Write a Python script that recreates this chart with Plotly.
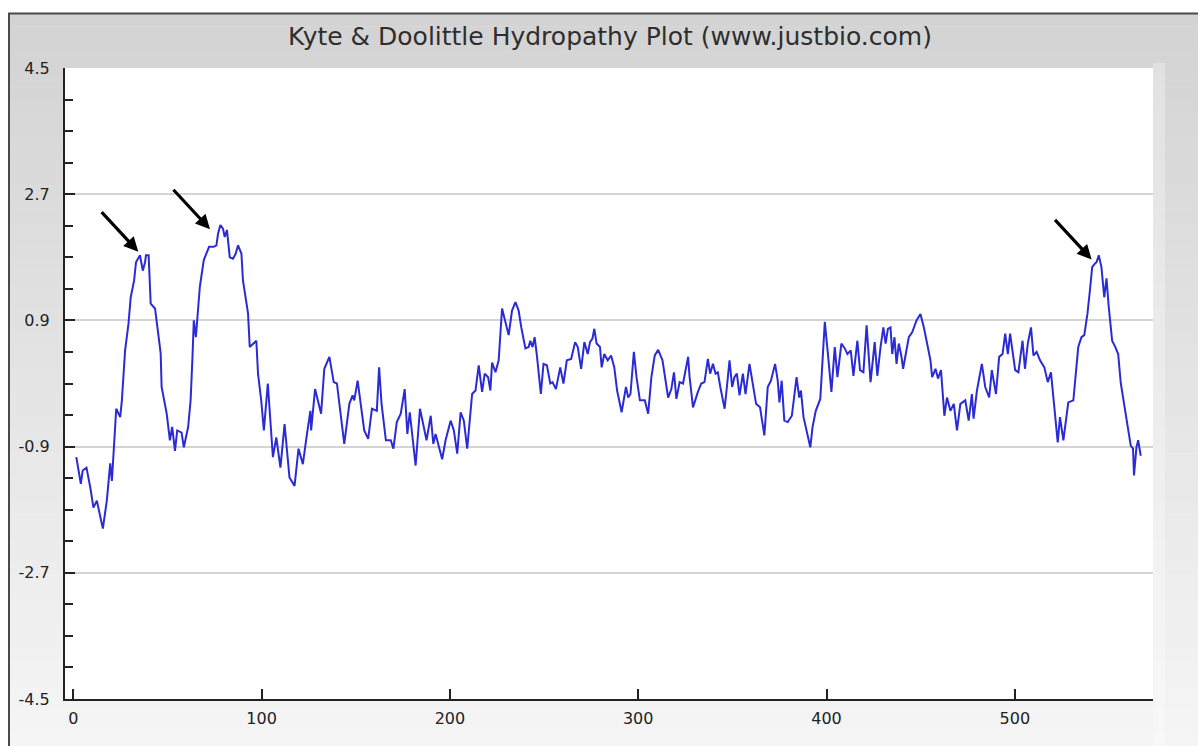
import plotly.graph_objects as go

# ---- data ----
residue = [
    1.6, 4, 5, 7, 9, 10.7, 12.5, 15.7, 17.8, 19.6, 20.5, 22.8, 24.9, 25.8, 27.5, 29.3, 30.5, 32.3, 33.3, 35.4,
    36.9, 38.1, 38.6, 40, 41.1, 43.4, 45.1, 46.4, 46.9, 49.6, 51.3, 52.5, 54, 55.2, 57.5, 58.7, 61, 62.3, 63.3, 64,
    65.1, 65.8, 67.2, 69.3, 71.1, 72.1, 74.6, 76, 76.9, 78.1, 79.5, 80.4, 81.6, 83.1, 84.8, 86.2, 87.5, 89.3, 90.1, 91.9,
    92.8, 93.7, 95.4, 97.2, 98.1, 99.8, 101.2, 103.3, 106, 107.8, 110, 112.2, 114.8, 117.5, 119.6, 121.9, 124.1, 125.9, 126.3, 128.4,
    131.6, 133.3, 136, 138.3, 140, 142.1, 143.9, 146.6, 148.3, 149.2, 151, 154.5, 156.6, 158.6, 161.2, 162.4, 163.7, 166, 168.6, 170,
    171.8, 173.9, 176, 177.4, 178.7, 181.8, 184.1, 187.6, 189.8, 191.2, 192.4, 195.9, 197.7, 200.4, 202.1, 203.9, 205.7, 207.4, 209.2, 211.8,
    213.6, 215.3, 217.1, 218.5, 220.3, 221.5, 222.4, 224.2, 225.9, 227.7, 229.8, 231.2, 233, 234.8, 236.5, 237.9, 240.1, 241.8, 242.7, 243.9,
    245, 246.2, 248.3, 249.7, 251.5, 253.3, 254.5, 256.3, 258.6, 260.3, 262.1, 264.4, 266.5, 267.9, 269.7, 271.4, 273.2, 274.4, 275.7, 276.7,
    277.9, 279.7, 280.6, 282, 283.8, 285.6, 287.3, 288.8, 291.2, 293.5, 294.7, 295.9, 297.7, 299.1, 300.9, 303.5, 305.3, 307, 308.8, 310.6,
    312.9, 314.1, 315.9, 317.6, 319, 320.3, 322, 323.8, 325.2, 326.5, 327.3, 329.1, 331.7, 333.5, 335.2, 337, 338.2, 339.7, 341.1, 342.3,
    343.6, 345.9, 347.1, 348.5, 349.9, 351.1, 352.4, 353.8, 355.6, 357, 359.1, 360.8, 362.6, 364.7, 367, 368.8, 370.5, 372.7, 374.1, 375,
    376.2, 377.6, 379.4, 381.6, 382.9, 384.1, 385.5, 386.4, 387.8, 389.6, 391.4, 392.6, 394.3, 396.7, 399.1, 400.9, 402.6, 404.4, 405.8, 407.9,
    409.7, 411.1, 412.9, 414.3, 416.4, 417.8, 419.6, 421.3, 423.4, 425.6, 427, 428.7, 430.2, 431.4, 432.6, 434, 434.9, 436.1, 437.2, 438.4,
    439.7, 440.7, 441.9, 443.7, 445.5, 447.8, 449.9, 451.7, 453.8, 455.2, 456.1, 457.9, 459.2, 460.8, 462.6, 464, 465.8, 467.6, 469.3, 471.1,
    473.7, 475.5, 477.2, 478.1, 479.9, 482.5, 484.3, 486.4, 487.8, 490, 491.7, 493.5, 494.9, 496.3, 497.5, 500.2, 501.9, 504.1, 505.4, 506.9,
    508.6, 509.9, 511.6, 513.4, 515.7, 517.5, 519.2, 521, 522.8, 524, 525.8, 528.4, 531.1, 533.7, 535.4, 536.9, 538.6, 539.9, 541.1, 542.5,
    543.4, 544.6, 546, 547.5, 548.7, 549.9, 551.7, 553.4, 554.9, 556.3, 558.4, 560.2, 561.6, 562.8, 563.3, 564.6, 565.5, 566.9,
]
hydropathy = [
    -1.05, -1.43, -1.24, -1.2, -1.48, -1.77, -1.67, -2.07, -1.67, -1.14, -1.39, -0.36, -0.48, -0.24, 0.47, 0.85, 1.23, 1.47, 1.73, 1.83,
    1.61, 1.73, 1.83, 1.83, 1.14, 1.07, 0.71, 0.43, -0.05, -0.43, -0.81, -0.62, -0.96, -0.67, -0.7, -0.91, -0.62, -0.24, 0.38, 0.9,
    0.66, 0.95, 1.38, 1.76, 1.88, 1.95, 1.95, 1.97, 2.14, 2.26, 2.21, 2.09, 2.19, 1.8, 1.78, 1.85, 1.97, 1.85, 1.47, 1.14,
    1.0, 0.52, 0.57, 0.61, 0.14, -0.24, -0.67, 0.0, -1.05, -0.77, -1.2, -0.58, -1.34, -1.46, -0.93, -1.15, -0.72, -0.39, -0.67, -0.08,
    -0.43, 0.21, 0.38, 0.02, 0.0, -0.43, -0.86, -0.29, -0.17, -0.24, 0.04, -0.67, -0.79, -0.36, -0.39, 0.23, -0.29, -0.81, -0.81, -0.93,
    -0.55, -0.43, -0.08, -0.72, -0.41, -1.17, -0.36, -0.81, -0.46, -0.86, -0.72, -1.08, -0.81, -0.53, -0.67, -1.0, -0.41, -0.53, -0.93, -0.15,
    -0.1, 0.26, -0.12, 0.14, 0.09, -0.1, 0.3, 0.16, 0.33, 1.07, 0.85, 0.69, 1.04, 1.16, 1.04, 0.8, 0.5, 0.52, 0.61, 0.52,
    0.66, 0.4, -0.15, 0.28, 0.26, 0.0, 0.02, -0.08, 0.23, 0.0, 0.33, 0.35, 0.59, 0.52, 0.21, 0.59, 0.42, 0.59, 0.64, 0.78,
    0.57, 0.52, 0.23, 0.42, 0.33, 0.4, 0.23, -0.1, -0.41, -0.05, -0.2, -0.15, 0.45, 0.09, -0.24, -0.24, -0.43, 0.09, 0.4, 0.48,
    0.33, 0.14, -0.2, -0.08, 0.16, -0.22, 0.02, 0.0, 0.19, 0.38, 0.09, -0.34, -0.12, 0.0, 0.02, 0.35, 0.14, 0.28, 0.14, 0.16,
    -0.05, -0.36, -0.05, 0.33, -0.05, 0.09, 0.14, -0.17, 0.14, -0.15, 0.28, 0.0, -0.29, -0.34, -0.74, -0.05, 0.04, 0.28, 0.04, -0.27,
    0.04, -0.53, -0.55, -0.46, -0.2, 0.09, -0.2, -0.1, -0.48, -0.72, -0.91, -0.62, -0.39, -0.22, 0.88, 0.38, -0.12, 0.52, 0.09, 0.57,
    0.5, 0.42, 0.47, 0.11, 0.61, 0.19, 0.16, 0.83, 0.02, 0.59, 0.11, 0.52, 0.8, 0.57, 0.78, 0.8, 0.42, 0.66, 0.28, 0.57,
    0.4, 0.21, 0.4, 0.66, 0.73, 0.9, 0.99, 0.8, 0.52, 0.33, 0.09, 0.21, 0.07, 0.19, -0.46, -0.2, -0.39, -0.29, -0.67, -0.29,
    -0.24, -0.53, -0.15, -0.5, -0.1, 0.28, -0.05, -0.2, 0.19, -0.15, 0.38, 0.42, 0.71, 0.42, 0.71, 0.19, 0.16, 0.61, 0.21, 0.57,
    0.8, 0.4, 0.45, 0.33, 0.23, 0.02, 0.16, -0.34, -0.84, -0.48, -0.81, -0.27, -0.24, 0.52, 0.66, 0.69, 1.0, 1.33, 1.66, 1.71,
    1.73, 1.83, 1.66, 1.23, 1.5, 1.09, 0.61, 0.52, 0.42, 0.0, -0.34, -0.62, -0.89, -0.93, -1.31, -0.91, -0.81, -1.03,
]

# arrow tips (peaks marked in the picture)
arrow_x = [34.5, 72.6, 540.8]
arrow_y = [1.88, 2.2, 1.77]

y_ticks = [-4.5, -2.7, -0.9, 0.9, 2.7, 4.5]
x_ticks = [0, 100, 200, 300, 400, 500]
title_text = "Kyte &amp; Doolittle Hydropathy Plot (www.justbio.com)"

W, H = 1198, 746
L, R, T, B = 65, 1153, 68, 699  # plot area in pixels


def px_to_paper_x(px):
    return (px - L) / (R - L)


def px_to_paper_y(py):
    return (B - py) / (B - T)


shapes = []
# gray gradient panel (horizontal bands)
n_bands = 60
top_px, bot_px = 14, 746
for i in range(n_bands):
    y0 = top_px + (bot_px - top_px) * i / n_bands
    y1 = top_px + (bot_px - top_px) * (i + 1) / n_bands + 0.6
    t = i / (n_bands - 1)
    g = int(round(211 + (245 - 211) * t))
    shapes.append(dict(type="rect", xref="paper", yref="paper", layer="below",
                       x0=px_to_paper_x(9), x1=px_to_paper_x(W + 2),
                       y0=px_to_paper_y(y1), y1=px_to_paper_y(y0),
                       line=dict(width=0), fillcolor=f"rgb({g},{g},{g})"))
# light strip right of the plot area
shapes.append(dict(type="rect", xref="paper", yref="paper", layer="below",
                   x0=1, x1=px_to_paper_x(1165), y0=px_to_paper_y(H), y1=px_to_paper_y(63),
                   line=dict(width=0), fillcolor="rgba(255,255,255,0.3)"))
# white plot area
shapes.append(dict(type="rect", xref="paper", yref="paper", layer="below",
                   x0=0, x1=1, y0=0, y1=1, line=dict(width=0), fillcolor="white"))
# dark frame lines
shapes.append(dict(type="line", xref="paper", yref="paper", layer="above",
                   x0=px_to_paper_x(8), x1=px_to_paper_x(W + 2),
                   y0=px_to_paper_y(13.5), y1=px_to_paper_y(13.5),
                   line=dict(color="#4a4a4a", width=2)))
shapes.append(dict(type="line", xref="paper", yref="paper", layer="above",
                   x0=px_to_paper_x(9), x1=px_to_paper_x(9),
                   y0=px_to_paper_y(13), y1=px_to_paper_y(W),
                   line=dict(color="#4a4a4a", width=2)))

fig = go.Figure()
fig.add_trace(go.Scatter(x=residue, y=hydropathy, mode="lines",
                         line=dict(color="#2b2bd6", width=2), hoverinfo="x+y",
                         showlegend=False))

annotations = []
for ax_, ay_ in zip(arrow_x, arrow_y):
    annotations.append(dict(x=ax_, y=ay_, xref="x", yref="y", text="", showarrow=True,
                            arrowhead=2, arrowsize=0.9, arrowwidth=3.2, arrowcolor="black",
                            ax=-38, ay=-41, standoff=0))

tick_font = dict(family="DejaVu Sans", size=16, color="#222222")

fig.update_layout(
    width=W, height=H, autosize=False,
    margin=dict(l=L, r=W - R, t=T, b=H - B, pad=0),
    paper_bgcolor="white", plot_bgcolor="white",
    title=dict(text=title_text, x=(610 - L) / (R - L), xref="paper", xanchor="center",
               y=1 - 36 / H, yref="container", yanchor="middle",
               font=dict(family="DejaVu Sans", size=25, color="#2e2e2e")),
    shapes=shapes, annotations=annotations,
    xaxis=dict(range=[(L - 73.3) / 1.883, (R - 73.3) / 1.883], tickmode="array", tickvals=x_ticks,
               ticktext=[str(v) for v in x_ticks],
               showline=True, linecolor="#222222", linewidth=2, ticks="inside", ticklen=10,
               tickwidth=2, tickcolor="#222222", showgrid=False, zeroline=False,
               tickfont=tick_font, ticklabelstandoff=4),
    yaxis=dict(range=[-4.5, 4.5], tickmode="array", tickvals=y_ticks,
               ticktext=[str(v) for v in y_ticks],
               showline=True, linecolor="#222222", linewidth=2, ticks="inside", ticklen=10,
               tickwidth=2, tickcolor="#222222", showgrid=True, gridcolor="#d4d4d4", gridwidth=2,
               zeroline=False, tickfont=tick_font, ticklabelstandoff=10,
               minor=dict(tickmode="linear", tick0=-4.5, dtick=0.45, ticks="inside", ticklen=8,
                          tickwidth=2, tickcolor="#222222", showgrid=False)),
)

fig.write_html("out.html", config={"displayModeBar": False},
               post_script="document.body.style.margin='0';document.body.style.overflow='hidden';")
